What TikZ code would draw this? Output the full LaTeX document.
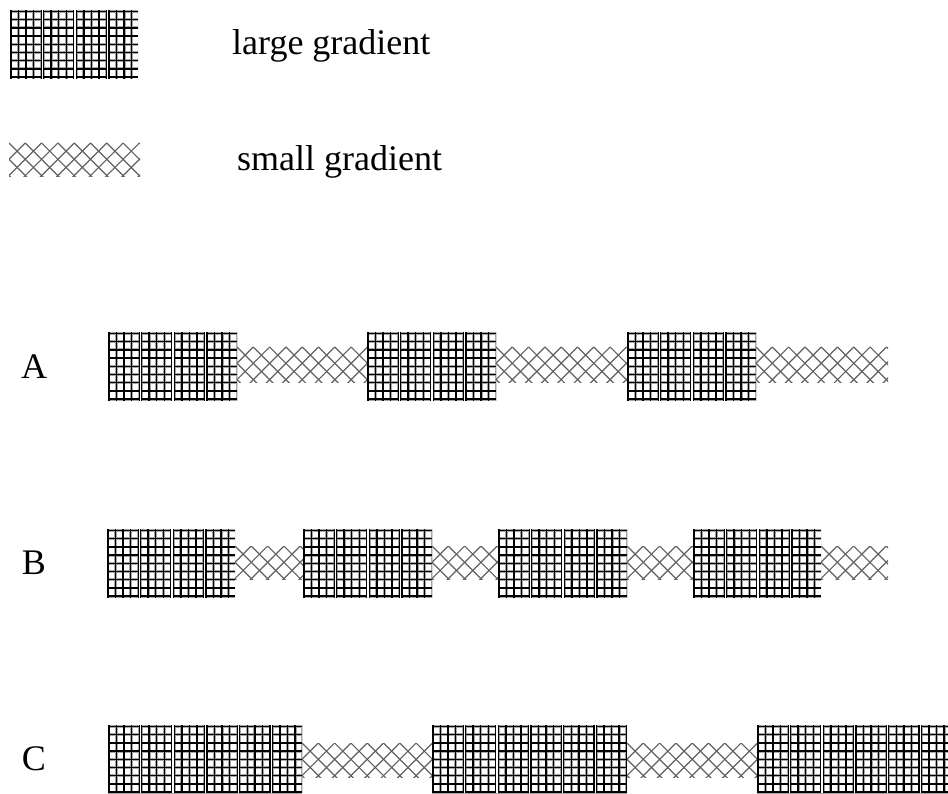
\documentclass[tikz,border=0pt]{standalone}
\usepackage{fontspec}
\setmainfont{Liberation Serif}
\tikzset{
  halo/.style={draw=black!35, line width=2.8pt},
  core/.style={draw=black, line width=1.4pt},
  gap/.style={draw=white, line width=1.1pt},
  diag/.style={draw=black!62, line width=1.2pt},
  lbl/.style={font=\fontsize{36}{40}\selectfont, inner sep=0pt}
}
\newcommand\LargeGrad[4]{%
  \begin{scope}
    \clip (#1,#2) rectangle (#3,#4);
    \fill[white] (#1,#2) rectangle (#3,#4);
    \foreach \k in {0,...,8}{\draw[halo] (#1,{#2+1.5+\k*8.2}) -- (#3,{#2+1.5+\k*8.2});}
    \foreach \t in {0,...,6}{\foreach \k in {0,...,4}{%
      \draw[halo] ({#1+\t*32.7+0.8+\k*7.6},#2) -- ({#1+\t*32.7+0.8+\k*7.6},#4);}}
    \foreach \k in {0,...,8}{\draw[core] (#1,{#2+1.5+\k*8.2}) -- (#3,{#2+1.5+\k*8.2});}
    \foreach \t in {0,...,6}{\foreach \k in {0,...,4}{%
      \draw[core] ({#1+\t*32.7+0.8+\k*7.6},#2) -- ({#1+\t*32.7+0.8+\k*7.6},#4);}}
    \foreach \t in {0,...,6}{\draw[gap] ({#1+\t*32.7+32.3},#2) -- ({#1+\t*32.7+32.3},#4);}
  \end{scope}}
\newcommand\SmallGrad[4]{%
  \begin{scope}
    \clip (#1,#2) rectangle (#3,#4);
    \foreach \k in {-3,...,12}{%
      \draw[diag] ({#1+\k*16.3},#2) -- ({#1+\k*16.3+40},{#2+40});
      \draw[diag] ({#1+\k*16.3},#2) -- ({#1+\k*16.3-40},{#2+40});}
  \end{scope}}
\begin{document}
\begin{tikzpicture}[x=1pt,y=-1pt]
\useasboundingbox (0,0) rectangle (948,794);
% legend
\LargeGrad{10}{10}{138}{79}
\SmallGrad{9}{143}{140}{177}
\node[lbl, anchor=mid west] (lg) at (232,52) {large gradient};
\node[lbl, anchor=mid west] (sg) at (237,168) {small gradient};
% row A
\node[lbl] (la) at (34,367) {A};
\LargeGrad{108}{332}{237}{401}
\SmallGrad{237}{347}{367}{382}
\LargeGrad{367}{332}{496}{401}
\SmallGrad{496}{347}{627}{382}
\LargeGrad{627}{332}{756}{401}
\SmallGrad{756}{347}{888}{382}
% row B
\node[lbl] (lb) at (34,563) {B};
\LargeGrad{107}{529}{235}{598}
\SmallGrad{235}{546}{303}{579}
\LargeGrad{303}{529}{432}{598}
\SmallGrad{432}{546}{498}{579}
\LargeGrad{498}{529}{627}{598}
\SmallGrad{627}{546}{693}{579}
\LargeGrad{693}{529}{821}{598}
\SmallGrad{821}{546}{888}{579}
% row C
\node[lbl] (lc) at (34,759) {C};
\LargeGrad{108}{725}{302}{793}
\SmallGrad{302}{743}{432}{777}
\LargeGrad{432}{725}{627}{793}
\SmallGrad{627}{743}{757}{777}
\LargeGrad{757}{725}{948}{793}
\end{tikzpicture}
\end{document}
